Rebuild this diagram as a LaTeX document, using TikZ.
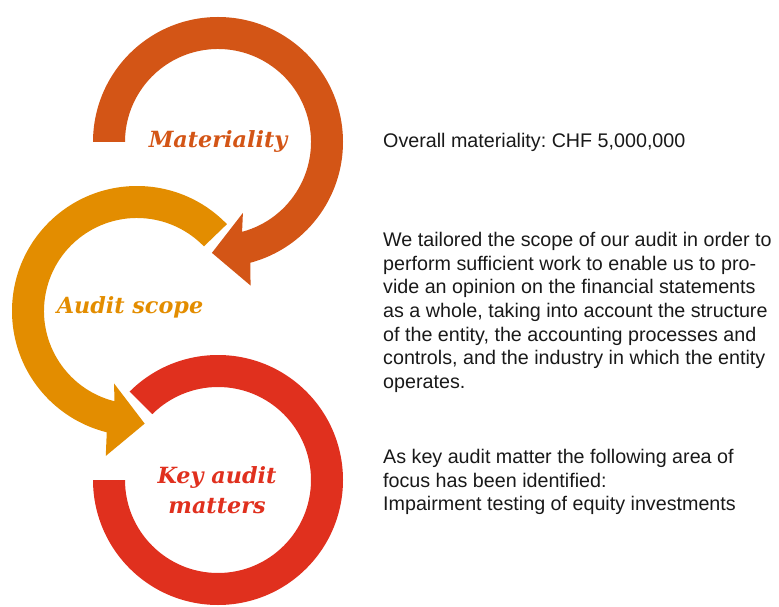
\documentclass[tikz,border=0pt]{standalone}
\usepackage{fontspec}
\setmainfont{Liberation Sans}
\newfontfamily\loopfont{DejaVu Serif}
\frenchspacing
\usetikzlibrary{calc}
\usetikzlibrary{positioning}
\definecolor{matorange}{HTML}{D35516}
\definecolor{scopeamber}{HTML}{E38D00}
\definecolor{keyred}{HTML}{E0301E}
\tikzstyle{colorMat} = [fill=matorange]
\tikzstyle{colorScope} = [fill=scopeamber]
\tikzstyle{colorKey} = [fill=keyred]
\tikzstyle{looplabel} = [font=\loopfont\bfseries\itshape\fontsize{22.3}{30}\selectfont, align=center, inner sep=0]
\tikzstyle{bodytext} = [font=\fontsize{19.7}{23.7}\selectfont, align=left, anchor=north west, inner sep=0, text=black!90]

\begin{document}
\begin{tikzpicture}[x=1pt, y=1pt]
    \useasboundingbox (0,0) rectangle (779,606);
    \coordinate (mat_c) at (218,464);
    \coordinate (scope_c) at ($(mat_c)+(-81,-169)$);
    \coordinate (key_c) at ($(mat_c)+(0,-338)$);

    % materiality loop
    \coordinate (mat_b) at ($(mat_c)+(-75:111)$);
    \fill[colorMat] ($(mat_c)+(180:125)$) arc[start angle=180, end angle=-75, radius=125]
        -- ($(mat_b)+(-84:36.5)$) -- ($(mat_b)+(-174:35)$) -- ($(mat_b)+(96:36.5)$)
        -- ($(mat_c)+(-75:93)$) arc[start angle=-75, end angle=180, radius=93] -- cycle;

    % audit scope loop
    \coordinate (scope_b) at ($(scope_c)+(256:112)$);
    \fill[colorScope] ($(scope_c)+(44:125)$) arc[start angle=44, end angle=256, radius=125]
        -- ($(scope_b)+(-96.5:36.5)$) -- ($(scope_b)+(-6.5:35)$) -- ($(scope_b)+(83.5:36.5)$)
        -- ($(scope_c)+(256:93)$) arc[start angle=256, end angle=44, radius=93] -- cycle;

    % key audit matters ring
    \fill[colorKey] ($(key_c)+(135:125)$) arc[start angle=135, end angle=-180, radius=125]
        -- ($(key_c)+(-180:93)$) arc[start angle=-180, end angle=135, radius=93] -- cycle;

    \node[looplabel, text=matorange] (mat_label) at (mat_c) {Materiality};
    \node[looplabel, text=scopeamber] (scope_label) at ($(scope_c)+(-7,4)$) {Audit scope};
    \node[looplabel, text=keyred] (key_label) at ($(key_c)+(-1,-10)$) {Key audit\\matters};

    \node[bodytext] (mat_text) at ($(mat_c)+(165,9)$) {Overall materiality: CHF 5,000,000};
    \node[bodytext] (scope_text) at ($(mat_c)+(165,-90)$) {We tailored the scope of our audit in order to\\
        perform sufficient work to enable us to pro-\\
        vide an opinion on the financial statements\\
        as a whole, taking into account the structure\\
        of the entity, the accounting processes and\\
        controls, and the industry in which the entity\\
        operates.};
    \node[bodytext] (key_text) at ($(mat_c)+(165,-307)$) {As key audit matter the following area of\\
        focus has been identified:\\
        Impairment testing of equity investments};
\end{tikzpicture}
\end{document}
